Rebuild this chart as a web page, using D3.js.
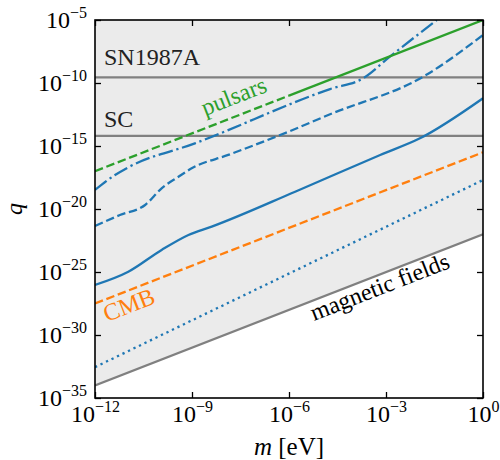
<!DOCTYPE html>
<html>
<head>
<meta charset="utf-8">
<script src="https://cdn.jsdelivr.net/npm/d3@7"></script>
<style>
  body { margin: 0; background: #fff; }
</style>
</head>
<body>
<svg id="chart"></svg>
<script>
// log10 values (m in eV, q)
const solidLogM = [-12, -10.97, -9.94, -9.11, -8.39, -5.81, -3.18, -1.95, 0];
const solidLogQ = [-26.03, -24.98, -23.25, -22.06, -21.40, -18.63, -15.71, -14.39, -11.21];

const dashedLogM = [-12, -11.23, -10.45, -9.94, -9.42, -9.01, -7.88, -6.02, -4.73, -1.85, 0];
const dashedLogQ = [-21.35, -20.48, -19.68, -18.36, -17.44, -16.77, -15.71, -13.87, -12.48, -9.5, -6.19];

const dashdotLogM = [-12, -11.38, -10.97, -8.91, -4.73, -3.71, -2.88, -1.43];
const dashdotLogQ = [-18.49, -17.30, -16.69, -14.79, -10.48, -9.63, -7.91, -5.0];

const dottedLogM = [-12, 0];
const dottedLogQ = [-32.55, -17.7];

const cmbLogM = [-12, 0];
const cmbLogQ = [-27.5, -15.5];

const pulsarLogM = [-12, -6, 0];   // dashed up to 1e-6, solid after
const pulsarLogQ = [-17, -11, -5];

const magLogM = [-12, 0];
const magLogQ = [-34, -22];

const sn1987aLogQ = -9.55;
const scLogQ = -14.2;

const xTickExp = [-12, -9, -6, -3, 0];
const yTickExp = [-5, -10, -15, -20, -25, -30, -35];

const width = 500, height = 460;
const margin = {top: 20, right: 17, bottom: 62, left: 95};
const innerW = width - margin.left - margin.right;
const innerH = height - margin.top - margin.bottom;

const blue = '#1f77b4', orange = '#ff7f0e', green = '#2ca02c', grey = '#808080';
const lw = 2.3;
const serif = '"Liberation Serif", "Times New Roman", serif';

const svg = d3.select('#chart').attr('width', width).attr('height', height);
const chart = svg.append('g').attr('transform', `translate(${margin.left},${margin.top})`);

const xscale = d3.scaleLog().domain([1e-12, 1]).range([0, innerW]);
const yscale = d3.scaleLog().domain([1e-35, 1e-5]).range([innerH, 0]);

const pts = (lm, lq) => lm.map((e, i) => ({m: Math.pow(10, e), q: Math.pow(10, lq[i])}));

chart.append('defs').append('clipPath').attr('id', 'clip')
  .append('rect').attr('width', innerW).attr('height', innerH);

const plot = chart.append('g').attr('clip-path', 'url(#clip)');

// excluded region above the magnetic field bound
const area = d3.area()
  .x(d => xscale(d.m))
  .y0(0)
  .y1(d => yscale(d.q));
plot.append('path').datum(pts(magLogM, magLogQ))
  .attr('d', area).attr('fill', '#ebebeb');

const line = d3.line()
  .x(d => xscale(d.m))
  .y(d => yscale(d.q))
  .curve(d3.curveMonotoneX);

const drawLine = (data, color, dash) => {
  plot.append('path').datum(data)
    .attr('d', line)
    .attr('fill', 'none')
    .attr('stroke', color)
    .attr('stroke-width', lw)
    .attr('stroke-dasharray', dash || null);
};

// horizontal bounds
[sn1987aLogQ, scLogQ].forEach(e => {
  plot.append('line')
    .attr('x1', 0).attr('x2', innerW)
    .attr('y1', yscale(Math.pow(10, e))).attr('y2', yscale(Math.pow(10, e)))
    .attr('stroke', grey).attr('stroke-width', lw);
});

drawLine(pts(magLogM, magLogQ), grey);
drawLine(pts(dottedLogM, dottedLogQ), blue, '2.3,3.8');
drawLine(pts(cmbLogM, cmbLogQ), orange, '8.5,3.7');
drawLine(pts(solidLogM, solidLogQ), blue);
drawLine(pts(dashedLogM, dashedLogQ), blue, '8.5,3.7');
drawLine(pts(dashdotLogM, dashdotLogQ), blue, '14.7,3.7,2.3,3.7');
const pulsar = pts(pulsarLogM, pulsarLogQ);
drawLine(pulsar.slice(0, 2), green, '8.5,3.7');
drawLine(pulsar.slice(1), green);

// axes, ticks pointing inwards on all four sides
const xTicks = xTickExp.map(e => Math.pow(10, e));
const yTicks = yTickExp.map(e => Math.pow(10, e));

const powLabel = function (d) {
  const ex = Math.round(Math.log10(d));
  const t = d3.select(this).text(null);
  t.append('tspan').text('10');
  t.append('tspan').attr('dy', '-0.62em').style('font-size', '16px')
    .text((ex < 0 ? '\u2212' : '') + Math.abs(ex));
};

const xaxis_group = chart.append('g').attr('transform', `translate(0,${innerH})`)
  .call(d3.axisBottom(xscale).tickValues(xTicks).tickSizeInner(-6).tickSizeOuter(0).tickPadding(7));
const yaxis_group = chart.append('g')
  .call(d3.axisLeft(yscale).tickValues(yTicks).tickSizeInner(-6).tickSizeOuter(0).tickPadding(8));
chart.append('g')
  .call(d3.axisTop(xscale).tickValues(xTicks).tickSizeInner(-6).tickSizeOuter(0).tickFormat(''));
chart.append('g').attr('transform', `translate(${innerW},0)`)
  .call(d3.axisRight(yscale).tickValues(yTicks).tickSizeInner(-6).tickSizeOuter(0).tickFormat(''));

chart.selectAll('.domain').remove();
chart.selectAll('g').attr('font-family', serif);
chart.selectAll('.tick line').attr('stroke', '#000').attr('stroke-width', 1.3);
chart.selectAll('.tick text').style('font-size', '24px').style('font-family', serif).attr('fill', '#000');

xaxis_group.selectAll('.tick text').each(powLabel);
yaxis_group.selectAll('.tick text').each(powLabel);

chart.append('rect')
  .attr('width', innerW).attr('height', innerH)
  .attr('fill', 'none').attr('stroke', '#000').attr('stroke-width', 1.6);

// labels
const label = (txt, x, y, color, angle) => {
  chart.append('text')
    .attr('transform', `translate(${x - margin.left},${y - margin.top}) rotate(${angle || 0})`)
    .style('font-family', serif)
    .style('font-size', '24px')
    .style('fill', color || '#000')
    .text(txt);
};
label('SN1987A', 104, 65, '#222');
label('SC', 104, 127, '#222');
label('pulsars', 205, 116, green, -21.3);
label('CMB', 107, 322, orange, -21.3);
label('magnetic fields', 314, 321, '#000', -21.3);

svg.append('text')
  .attr('x', margin.left + innerW / 2).attr('y', 455)
  .attr('text-anchor', 'middle')
  .style('font-family', serif).style('font-size', '25px')
  .call(t => {
    t.append('tspan').style('font-style', 'italic').text('m');
    t.append('tspan').text(' [eV]');
  });

svg.append('text')
  .attr('transform', `translate(22,${margin.top + innerH / 2}) rotate(-90)`)
  .attr('text-anchor', 'middle')
  .style('font-family', serif).style('font-size', '24px').style('font-style', 'italic')
  .text('q');
</script>
</body>
</html>
